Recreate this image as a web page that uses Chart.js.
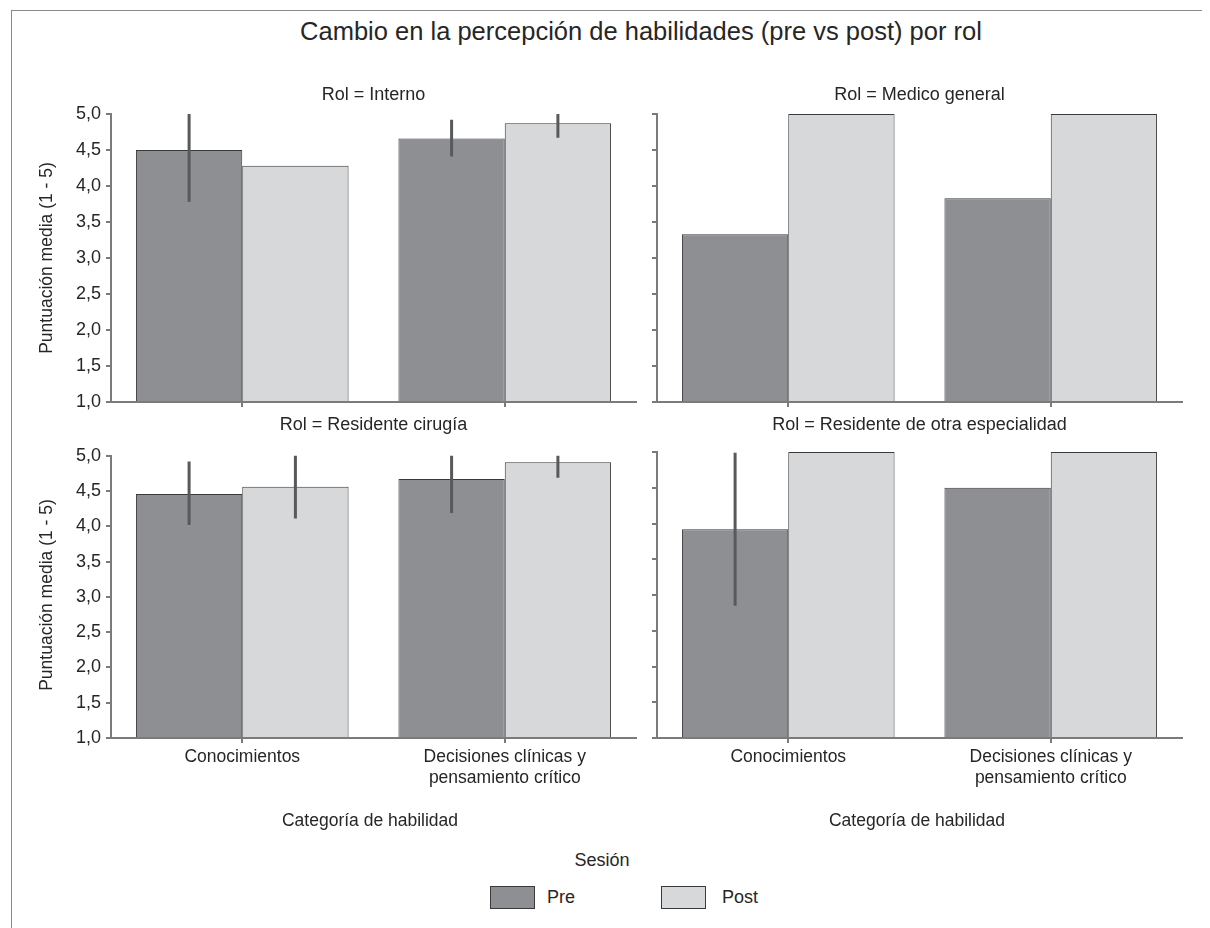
<!DOCTYPE html>
<html>
<head>
<meta charset="utf-8">
<script src="https://cdn.jsdelivr.net/npm/chart.js@4.4.1/dist/chart.umd.min.js"></script>
<style>
  html, body { margin: 0; padding: 0; background: #fff; }
  #fig { position: relative; width: 1210px; height: 928px; overflow: hidden;
         font-family: "Liberation Sans", Arial, Helvetica, sans-serif; color: #262626; }
  #frame { position: absolute; left: 11px; top: 10px; width: 1190px; height: 940px;
           border-top: 1px solid #8a8a8a; border-left: 1px solid #8a8a8a; }
  .t { position: absolute; white-space: nowrap; line-height: 1; }
  .sw { position: absolute; width: 43px; height: 21px; border: 1px solid #3a3a3a; }
  canvas { position: absolute; }
</style>
</head>
<body>
<div id="fig">
  <div id="frame"></div>
</div>
<script>
// Skill categories and sessions
const categorias = ['Conocimientos', ['Decisiones clínicas y', 'pensamiento crítico']];
const sesiones = ['Pre', 'Post'];
const roles = ['Interno', 'Medico general', 'Residente cirugía', 'Residente de otra especialidad'];

// Mean scores (1 - 5) per role and session
const internoPre  = [4.50, 4.66];
const internoPost = [4.28, 4.87];
const medicoPre   = [3.33, 3.83];
const medicoPost  = [5.00, 5.00];
const cirugiaPre  = [4.46, 4.67];
const cirugiaPost = [4.56, 4.91];
const otraPre     = [3.92, 4.50];
const otraPost    = [5.00, 5.00];

// Confidence interval bounds (null = no interval)
const internoPreLo  = [3.78, 4.41];
const internoPreHi  = [5.22, 4.92];
const internoPostLo = [null, 4.67];
const internoPostHi = [null, 5.07];
const cirugiaPreLo  = [4.02, 4.19];
const cirugiaPreHi  = [4.92, 5.15];
const cirugiaPostLo = [4.11, 4.69];
const cirugiaPostHi = [5.01, 5.13];
const otraPreLo     = [2.85, null];
const otraPreHi     = [4.99, null];

// Value axis
const yMin = 1, yMax = 5, yStep = 0.5;

const FONT = '"Liberation Sans", Arial, Helvetica, sans-serif';
const INK = '#262626';
const AXIS = '#7b7b7b';
const PRE_FILL = '#8e8f93';
const POST_FILL = '#d7d8da';
const EDGE = '#3a3a3a';
const ERR = '#58595b';

const fig = document.getElementById('fig');

function addText(str, cx, baseline, size, opts = {}) {
  const d = document.createElement('div');
  d.className = 't';
  d.textContent = str;
  d.style.fontSize = size + 'px';
  d.style.top = (baseline - 0.8465 * size) + 'px';
  d.style.left = cx + 'px';
  if (!opts.left) d.style.transform = 'translateX(-50%)';
  fig.appendChild(d);
  return d;
}

function addRotated(str, cx, cy, size) {
  const d = document.createElement('div');
  d.className = 't';
  d.textContent = str;
  d.style.fontSize = size + 'px';
  d.style.left = cx + 'px';
  d.style.top = cy + 'px';
  d.style.transform = 'translate(-50%, -50%) rotate(-90deg)';
  fig.appendChild(d);
}

// Vertical interval lines drawn over the bars
const errorBars = {
  id: 'errorBars',
  afterDatasetsDraw(chart) {
    const { ctx, chartArea: a, scales: { y } } = chart;
    ctx.save();
    ctx.beginPath();
    ctx.rect(a.left, a.top, a.right - a.left, a.bottom - a.top);
    ctx.clip();
    ctx.strokeStyle = ERR;
    ctx.lineWidth = 3;
    ctx.lineCap = 'butt';
    chart.data.datasets.forEach((ds, i) => {
      if (!ds.errLo) return;
      const meta = chart.getDatasetMeta(i);
      ds.errLo.forEach((lo, j) => {
        const hi = ds.errHi[j];
        if (lo == null || hi == null) return;
        const bar = meta.data[j];
        ctx.beginPath();
        ctx.moveTo(bar.x, y.getPixelForValue(lo));
        ctx.lineTo(bar.x, y.getPixelForValue(hi));
        ctx.stroke();
      });
    });
    ctx.restore();
  }
};

function panel(p) {
  const c = document.createElement('canvas');
  c.width = p.w; c.height = p.h;
  c.style.left = p.left + 'px'; c.style.top = p.top + 'px';
  c.style.width = p.w + 'px'; c.style.height = p.h + 'px';
  fig.appendChild(c);
  const yW = 40;
  const xH = p.xLabels ? 60 : 10;
  const pad = {
    left: p.area.l - p.left - yW,
    right: p.left + p.w - p.area.r,
    top: p.area.t - p.top,
    bottom: p.top + p.h - p.area.b - xH
  };
  const mkDs = (label, data, fill, lo, hi) => ({
    label, data, backgroundColor: fill, borderColor: EDGE, borderWidth: 1,
    categoryPercentage: 0.81, barPercentage: 1, base: yMin, clip: false,
    errLo: lo, errHi: hi
  });
  new Chart(c, {
    type: 'bar',
    data: {
      labels: categorias,
      datasets: [
        mkDs(sesiones[0], p.pre, PRE_FILL, p.preLo, p.preHi),
        mkDs(sesiones[1], p.post, POST_FILL, p.postLo, p.postHi)
      ]
    },
    options: {
      responsive: false,
      animation: false,
      devicePixelRatio: 1,
      layout: { padding: pad },
      plugins: { legend: { display: false }, tooltip: { enabled: false }, title: { display: false } },
      scales: {
        x: {
          type: 'category',
          offset: true,
          z: 1,
          afterFit(s) { s.height = xH; },
          grid: { display: true, drawOnChartArea: false, drawTicks: true, tickLength: 5,
                  offset: false, color: AXIS, lineWidth: 2 },
          border: { display: true, color: AXIS, width: 2 },
          ticks: { display: p.xLabels, autoSkip: false, maxRotation: 0, padding: 4,
                   color: INK, font: { family: FONT, size: 17.5 } }
        },
        y: {
          min: yMin, max: yMax,
          z: 1,
          afterFit(s) { s.width = yW; },
          grid: { display: true, drawOnChartArea: false, drawTicks: true, tickLength: 5,
                  color: AXIS, lineWidth: 2 },
          border: { display: true, color: AXIS, width: 2 },
          ticks: { display: p.yLabels, stepSize: yStep, padding: 5, color: INK,
                   font: { family: FONT, size: 18 },
                   callback: v => Number(v).toFixed(1).replace('.', ',') }
        }
      }
    },
    plugins: [errorBars]
  });
}

const topArea = { t: 114, b: 402 };
const botArea = { t: 452, b: 738 };

panel({ left: 0, top: 90, w: 650, h: 330, area: { l: 111, r: 636, ...topArea },
        pre: internoPre, post: internoPost, preLo: internoPreLo, preHi: internoPreHi,
        postLo: internoPostLo, postHi: internoPostHi, yLabels: true, xLabels: false });
panel({ left: 560, top: 90, w: 640, h: 330, area: { l: 657, r: 1182, ...topArea },
        pre: medicoPre, post: medicoPost, yLabels: false, xLabels: false });
panel({ left: 0, top: 440, w: 650, h: 400, area: { l: 111, r: 636, ...botArea },
        pre: cirugiaPre, post: cirugiaPost, preLo: cirugiaPreLo, preHi: cirugiaPreHi,
        postLo: cirugiaPostLo, postHi: cirugiaPostHi, yLabels: true, xLabels: true });
panel({ left: 560, top: 440, w: 640, h: 400, area: { l: 657, r: 1182, ...botArea },
        pre: otraPre, post: otraPost, preLo: otraPreLo, preHi: otraPreHi,
        yLabels: false, xLabels: true });

// Titles and labels
addText('Cambio en la percepción de habilidades (pre vs post) por rol', 641, 41, 25.5);
addText('Rol = ' + roles[0], 373.5, 100, 18);
addText('Rol = ' + roles[1], 919.5, 100, 18);
addText('Rol = ' + roles[2], 373.5, 430, 18);
addText('Rol = ' + roles[3], 919.5, 430, 18);
addRotated('Puntuación media (1 - 5)', 47, 258, 17.5);
addRotated('Puntuación media (1 - 5)', 47, 595, 17.5);
addText('Categoría de habilidad', 370, 827, 17.5);
addText('Categoría de habilidad', 917, 827, 17.5);

// Legend
addText('Sesión', 602, 866, 18);
[[sesiones[0], PRE_FILL, 490, 547], [sesiones[1], POST_FILL, 661, 722]].forEach(([name, fill, bx, tx]) => {
  const s = document.createElement('div');
  s.className = 'sw';
  s.style.left = bx + 'px';
  s.style.top = '886px';
  s.style.background = fill;
  fig.appendChild(s);
  addText(name, tx, 903, 18, { left: true });
});
</script>
</body>
</html>
